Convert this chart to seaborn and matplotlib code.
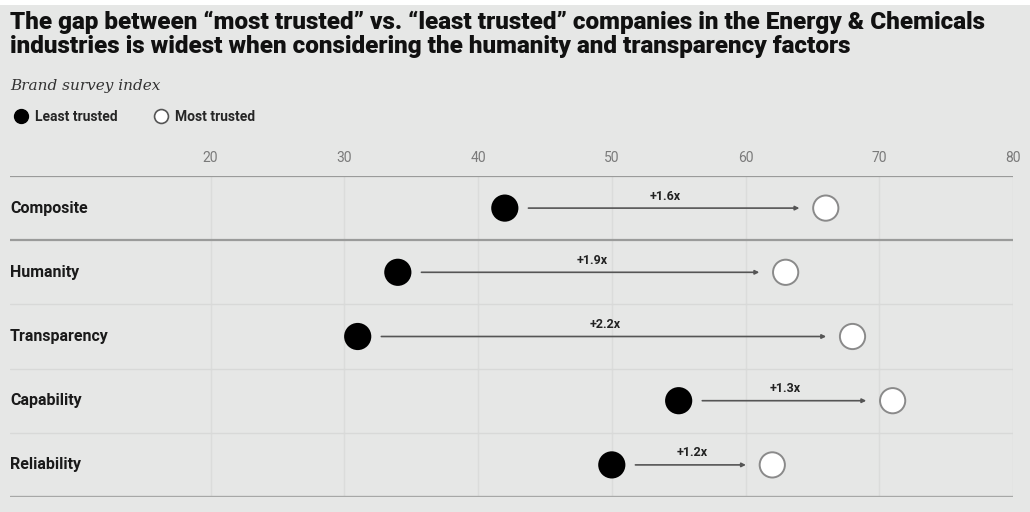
import matplotlib
matplotlib.use("Agg")
import matplotlib.pyplot as plt
import matplotlib.transforms as mtransforms
from matplotlib.lines import Line2D
import seaborn as sns
import pandas as pd

# Brand survey index by trust factor
factors = ["Composite", "Humanity", "Transparency", "Capability", "Reliability"]
least_trusted = [42, 34, 31, 55, 50]
most_trusted = [66, 63, 68, 71, 62]
gap_labels = ["+1.6x", "+1.9x", "+2.2x", "+1.3x", "+1.2x"]
x_ticks = [20, 30, 40, 50, 60, 70, 80]

BG = "#e6e7e6"

sns.set_theme(style="white")
plt.rcParams["font.family"] = ["Roboto", "DejaVu Sans"]

fig = plt.figure(figsize=(10.30, 5.12), dpi=100, facecolor=BG)
# thin white band along the top edge
fig.patches.append(plt.Rectangle((0, 1 - 5 / 512), 1, 5 / 512, transform=fig.transFigure,
                                 facecolor="white", edgecolor="none", zorder=0))

ax = fig.add_axes([10 / 1030, 15 / 512, 1003 / 1030, 321 / 512])
ax.set_facecolor(BG)

df = pd.DataFrame({
    "factor": factors * 2,
    "value": least_trusted + most_trusted,
    "group": ["Least trusted"] * len(factors) + ["Most trusted"] * len(factors),
})
df["row"] = df["factor"].map({f: i for i, f in enumerate(factors)})

# vertical grid
for t in x_ticks:
    ax.axvline(t, color="#dbdcdb", lw=1.0, zorder=0)

# row separators
for i in range(1, len(factors)):
    ax.axhline(i - 0.5, color="#9a9b9a" if i == 1 else "#d8d9d8",
               lw=1.6 if i == 1 else 1.0, zorder=1)
ax.axhline(-0.5, color="#9a9b9a", lw=1.6, zorder=1)
ax.axhline(len(factors) - 0.5, color="#a7a8a7", lw=2.4, zorder=1)

# gap arrows with multiplier labels
for i, (lo, hi, lab) in enumerate(zip(least_trusted, most_trusted, gap_labels)):
    ax.annotate("", xy=(hi, i), xytext=(lo, i),
                arrowprops=dict(arrowstyle="-|>", color="#555555", lw=1.2,
                                shrinkA=17, shrinkB=19, mutation_scale=6),
                zorder=2)
    ax.annotate(lab, xy=((lo + hi) / 2, i), xytext=(0, 4), textcoords="offset points",
                ha="center", va="bottom", fontsize=9, fontweight="bold",
                color="#222222", zorder=3)

sns.scatterplot(data=df, x="value", y="row", hue="group",
                palette={"Least trusted": "black", "Most trusted": "white"},
                edgecolor=["black"] * len(factors) + ["#8a8a8a"] * len(factors),
                linewidth=1.4, s=330, legend=False, ax=ax, zorder=4)

ax.set_xlim(5, 80)
ax.set_ylim(len(factors) - 0.5, -0.5)
ax.set_xlabel("")
ax.set_ylabel("")
ax.set_yticks([])
ax.xaxis.tick_top()
ax.set_xticks(x_ticks)
ax.set_xticklabels([str(t) for t in x_ticks])
ax.tick_params(axis="x", length=0, pad=8, labelsize=10, labelcolor="#7a7a7a")
for sp in ax.spines.values():
    sp.set_visible(False)

# factor names at the left edge
trans = mtransforms.blended_transform_factory(ax.transAxes, ax.transData)
for i, f in enumerate(factors):
    ax.text(0.0, i, f, transform=trans, ha="left", va="center",
            fontsize=11.5, fontweight="bold", color="#1a1a1a")

# title, subtitle, legend
fig.text(10 / 1030, 1 - 22 / 512,
         "The gap between \u201cmost trusted\u201d vs. \u201cleast trusted\u201d companies in the Energy & Chemicals",
         ha="left", va="center", fontsize=17.5, fontweight="black", color="#111111")
fig.text(10 / 1030, 1 - 47 / 512,
         "industries is widest when considering the humanity and transparency factors",
         ha="left", va="center", fontsize=17.5, fontweight="black", color="#111111")
fig.text(10 / 1030, 1 - 86 / 512, "Brand survey index", ha="left", va="center",
         fontsize=11, fontstyle="italic", family=["DejaVu Serif"], color="#333333")

handles = [
    Line2D([], [], marker="o", ls="", markersize=10, markerfacecolor="black",
           markeredgecolor="black", label="Least trusted"),
    Line2D([], [], marker="o", ls="", markersize=10, markerfacecolor="white",
           markeredgecolor="#555555", markeredgewidth=1.2, label="Most trusted"),
]
fig.legend(handles=handles, loc="center left", bbox_to_anchor=(2 / 1030, 1 - 117 / 512),
           ncol=2, frameon=False, handletextpad=0.5, columnspacing=2.6,
           prop={"weight": "bold", "size": 10}, handlelength=1.0)

fig.savefig("out.png", dpi=100, facecolor=BG)
